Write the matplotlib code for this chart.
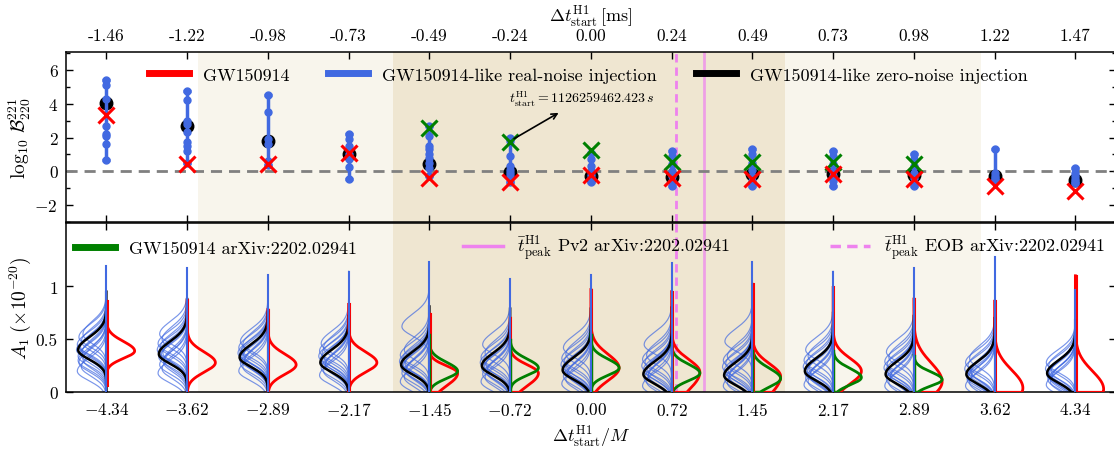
import numpy as np
import matplotlib
matplotlib.use('Agg')
import matplotlib.pyplot as plt
from matplotlib.lines import Line2D
from matplotlib.legend import Legend
from matplotlib.ticker import MultipleLocator

plt.rcParams['font.family'] = 'cmr10'
plt.rcParams['mathtext.fontset'] = 'cm'
plt.rcParams['axes.formatter.use_mathtext'] = True
plt.rcParams['axes.linewidth'] = 1.1

# x positions (start times)
t_ms = ['-1.46', '-1.22', '-0.98', '-0.73', '-0.49', '-0.24', '0.00',
        '0.24', '0.49', '0.73', '0.98', '1.22', '1.47']
t_M = ['-4.34', '-3.62', '-2.89', '-2.17', '-1.45', '-0.72', '0.00',
       '0.72', '1.45', '2.17', '2.89', '3.62', '4.34']
pos = np.arange(len(t_M))

# log10 Bayes factor 221 vs 220
bf_real = [
    [5.4, 5.1, 4.3, 2.7, 2.2, 2.1, 1.6, 0.65],
    [4.75, 4.25, 3.0, 2.8, 2.3, 1.75, 1.5, 1.2, 0.5],
    [4.55, 3.5, 1.9, 1.6, 0.6, 0.35],
    [2.2, 1.9, 1.5, 1.0, 0.7, 0.25, -0.45],
    [2.7, 2.1, 1.5, 1.3, 1.0, 0.8, 0.5, 0.2, -0.3],
    [2.0, 1.8, 0.9, 0.3, 0.1, -0.1, -0.3, -0.65],
    [1.1, 0.7, 0.3, 0.0, -0.2, -0.4, -0.65],
    [1.2, 0.9, 0.4, 0.0, -0.3, -0.6, -0.9],
    [1.3, 1.0, 0.5, 0.1, -0.3, -0.6, -0.85],
    [1.2, 0.9, 0.4, 0.0, -0.3, -0.6, -0.85],
    [1.0, 0.7, 0.3, -0.1, -0.4, -0.85],
    [1.3, -0.1, -0.3, -0.4, -0.55],
    [0.2, -0.1, -0.3, -0.45, -0.6, -0.7],
]
bf_zero = [4.05, 2.7, 1.8, 1.05, 0.4, -0.05, -0.3, -0.35, -0.15, -0.15, -0.25, -0.3, -0.55]
bf_gw = [3.35, 0.4, 0.45, 1.1, -0.4, -0.65, -0.2, -0.4, -0.45, -0.15, -0.45, -0.9, -1.2]
pos_arxiv = [4, 5, 6, 7, 8, 9, 10]
bf_arxiv = [2.55, 1.75, 1.25, 0.55, 0.55, 0.55, 0.45]

# A1 posteriors (peak, lower/upper spread, upper end of support)
blue_peaks = [
    [0.20, 0.24, 0.28, 0.31, 0.34, 0.36, 0.38, 0.40, 0.42, 0.45, 0.48, 0.52, 0.55, 0.30, 0.43],
    [0.18, 0.22, 0.26, 0.30, 0.33, 0.35, 0.37, 0.40, 0.43, 0.46, 0.50, 0.55, 0.28, 0.38],
    [0.20, 0.24, 0.27, 0.29, 0.31, 0.33, 0.35, 0.37, 0.39, 0.42, 0.45, 0.48, 0.30, 0.36],
    [0.16, 0.20, 0.23, 0.26, 0.28, 0.30, 0.32, 0.34, 0.36, 0.39, 0.42, 0.46, 0.25, 0.31],
    [0.10, 0.14, 0.18, 0.21, 0.23, 0.25, 0.27, 0.29, 0.32, 0.35, 0.40, 0.62, 0.20, 0.28],
    [0.10, 0.14, 0.17, 0.20, 0.22, 0.24, 0.26, 0.28, 0.30, 0.33, 0.37, 0.45, 0.19, 0.25],
    [0.08, 0.12, 0.15, 0.18, 0.20, 0.22, 0.24, 0.26, 0.29, 0.32, 0.36, 0.42, 0.17, 0.23],
    [0.06, 0.10, 0.13, 0.16, 0.18, 0.20, 0.22, 0.25, 0.28, 0.31, 0.35, 0.45, 0.15, 0.21],
    [0.06, 0.09, 0.12, 0.15, 0.17, 0.19, 0.21, 0.24, 0.27, 0.30, 0.34, 0.48, 0.14, 0.20],
    [0.07, 0.10, 0.13, 0.16, 0.18, 0.20, 0.22, 0.24, 0.27, 0.30, 0.34, 0.40, 0.15, 0.21],
    [0.06, 0.09, 0.12, 0.15, 0.17, 0.19, 0.21, 0.23, 0.26, 0.29, 0.33, 0.38, 0.14, 0.20],
    [0.06, 0.09, 0.12, 0.14, 0.16, 0.18, 0.20, 0.22, 0.25, 0.28, 0.32, 0.14, 0.19],
    [0.07, 0.10, 0.12, 0.14, 0.16, 0.18, 0.20, 0.22, 0.25, 0.28, 0.13, 0.19],
]
blue_widths = [0.36, 0.31, 0.34, 0.29, 0.35, 0.32, 0.30, 0.37, 0.33]
blue_top = [1.19, 1.17, 1.11, 1.14, 1.23, 1.07, 1.11, 1.22, 1.23, 1.14, 1.17, 1.28, 0.97]

black_peak = [0.40, 0.36, 0.33, 0.28, 0.26, 0.25, 0.21, 0.17, 0.16, 0.20, 0.17, 0.17, 0.18]
black_top = [0.95, 0.88, 0.76, 0.72, 0.81, 0.79, 0.79, 0.80, 0.78, 0.75, 0.72, 0.70, 0.68]

red_peak = [0.39, 0.28, 0.26, 0.28, 0.18, 0.18, 0.23, 0.19, 0.15, 0.20, 0.10, 0.04, 0.03]
red_sig_lo = [0.07, 0.09, 0.09, 0.09, 0.12, 0.12, 0.12, 0.17, 0.18, 0.12, 0.15, 0.15, 0.15]
red_sig_hi = [0.09, 0.10, 0.10, 0.10, 0.07, 0.08, 0.13, 0.12, 0.12, 0.12, 0.18, 0.17, 0.17]
red_top = [0.86, 0.87, 0.78, 0.83, 0.74, 0.70, 0.97, 0.95, 1.02, 0.99, 0.88, 0.86, 1.10]
red_bottom = [0.06, 0, 0, 0, 0, 0, 0, 0, 0, 0, 0, 0, 0]

green_peak = [0.20, 0.23, 0.23, 0.18, 0.13, 0.14, 0.12]
green_sig = [0.07, 0.07, 0.07, 0.07, 0.08, 0.07, 0.06]
green_top = [0.55, 0.50, 0.55, 0.45, 0.40, 0.40, 0.35]

# shaded windows and peak times (in units of the x positions)
light_span = (1.13, 10.83)
dark_span = (3.55, 8.41)
tpeak_eob = 7.05
tpeak_pv2 = 7.40

light = '#f8f5ec'
dark = '#efe6d1'
blue = 'royalblue'


def half_violin(ax, c, mu, s_lo, s_hi, top, width, side, bottom=0.0, **kw):
    a = np.linspace(bottom, top, 400)
    s = np.where(a < mu, s_lo, s_hi)
    w = width * np.exp(-0.5 * ((a - mu) / s) ** 2)
    xs = np.concatenate([[c], c + side * w])
    ys = np.concatenate([[bottom], a])
    ax.plot(xs, ys, **kw)


def put_legend(ax, handle, label, x, y):
    leg = Legend(ax, [handle], [label], loc='center left', bbox_to_anchor=(x, y),
                 frameon=False, fontsize=13, handlelength=2.2, handletextpad=0.8,
                 borderpad=0, borderaxespad=0)
    ax.add_artist(leg)


fig = plt.figure(figsize=(11.14, 4.52), dpi=100)
ax1 = fig.add_axes([66 / 1114, 1 - 222.7 / 452, 1049.75 / 1114, 170 / 452])
ax2 = fig.add_axes([66 / 1114, 1 - 393.3 / 452, 1049.75 / 1114, 169.5 / 452])

for ax in (ax1, ax2):
    ax.axvspan(*light_span, color=light, lw=0, zorder=0)
    ax.axvspan(*dark_span, color=dark, lw=0, zorder=0)
    ax.axvline(tpeak_eob, color='violet', ls=(0, (3, 1.8)), lw=2, zorder=1.5)
    ax.axvline(tpeak_pv2, color='violet', lw=2, alpha=0.7, zorder=1.5)
    ax.set_xlim(-0.5, 12.5)
    ax.set_xticks(pos)
    ax.tick_params(direction='in', which='both', top=True, right=True, pad=6,
                   labelsize=12.5, width=1)
    ax.tick_params(which='major', length=5)
    ax.tick_params(which='minor', length=3)

# ---------------- top panel: Bayes factors ----------------
ax1.axhline(0, color='gray', ls='--', lw=2, dashes=(4, 2.5), zorder=2)
for i, vals in enumerate(bf_real):
    lo, hi = min(vals), max(vals)
    ax1.errorbar(i, (lo + hi) / 2, yerr=(hi - lo) / 2, fmt='none', ecolor=blue,
                 elinewidth=2.5, capsize=3, capthick=2.5, zorder=4)
    ax1.plot([i] * len(vals), vals, 'o', color=blue, ms=5, zorder=4)
ax1.plot(pos, bf_zero, 'o', color='k', ms=9, zorder=3)
ax1.plot(pos, bf_gw, 'x', color='red', ms=11, mew=2.2, zorder=6)
ax1.plot(pos_arxiv, bf_arxiv, 'x', color='green', ms=11, mew=2.2, zorder=5)

ax1.annotate('', xy=(5.63, 3.55), xytext=(5.02, 1.85),
             arrowprops=dict(arrowstyle='->', color='k', lw=1.2), zorder=7)
ax1.text(4.99, 4.3, r'$t^{\rm H1}_{\rm start} = 1126259462.423\,s$', fontsize=10,
         ha='left', va='center')

ax1.set_ylim(-3, 7.1)
ax1.set_yticks([-2, 0, 2, 4, 6])
ax1.yaxis.set_minor_locator(MultipleLocator(1))
ax1.set_yticklabels([r'$-2$', '0', '2', '4', '6'])
ax1.tick_params(axis='x', labeltop=True, labelbottom=False)
ax1.set_xticklabels(t_ms)
ax1.xaxis.set_label_position('top')
ax1.set_xlabel(r'$\Delta t^{\rm H1}_{\rm start}\,[{\rm ms}]$', fontsize=13, labelpad=5)
ax1.set_ylabel(r'$\log_{10}\,\mathcal{B}^{221}_{220}$', fontsize=14)
ax1.yaxis.set_label_coords(-0.031, 0.5)

put_legend(ax1, Line2D([], [], color='red', lw=5), 'GW150914', 0.079, 0.863)
put_legend(ax1, Line2D([], [], color=blue, lw=5),
           'GW150914-like real-noise injection', 0.2496, 0.863)
put_legend(ax1, Line2D([], [], color='k', lw=5),
           'GW150914-like zero-noise injection', 0.600, 0.863)

# ---------------- bottom panel: A1 posteriors ----------------
for i in pos:
    for j, mu in enumerate(blue_peaks[i]):
        half_violin(ax2, i, mu, 0.09, 0.12, blue_top[i] - 0.05 * (j % 3),
                    blue_widths[j % len(blue_widths)], -1,
                    color=blue, lw=0.85, alpha=0.7, zorder=2)
    half_violin(ax2, i, black_peak[i], 0.09, 0.12, black_top[i], 0.35, -1,
                color='k', lw=1.8, zorder=3)
    half_violin(ax2, i, red_peak[i], red_sig_lo[i], red_sig_hi[i], red_top[i], 0.35, 1,
                bottom=red_bottom[i], color='red', lw=2, zorder=3)
    ax2.plot([i + 0.015, i + 0.015], [red_bottom[i], red_top[i]], color='red', lw=1.5, zorder=4)
    ax2.plot([i, i], [0, black_top[i]], color='k', lw=1.5, zorder=4)
    ax2.plot([i, i], [0, blue_top[i]], color=blue, lw=1.5, zorder=4.5)

for k, i in enumerate(pos_arxiv):
    half_violin(ax2, i, green_peak[k], green_sig[k], green_sig[k] * 1.2, green_top[k], 0.35, 1,
                color='green', lw=2, zorder=3.5)
    ax2.plot([i + 0.008, i + 0.008], [0, green_top[k]], color='green', lw=1, zorder=4)

ax2.set_ylim(0, 1.6)
ax2.set_yticks([0, 0.5, 1])
ax2.set_yticklabels(['0', '0.5', '1'])
ax2.set_xticklabels(['$' + s + '$' for s in t_M])
ax2.set_xlabel(r'$\Delta t^{\rm H1}_{\rm start}/M$', fontsize=13, labelpad=4)
ax2.set_ylabel(r'$A_1\;(\times 10^{-20})$', fontsize=14)
ax2.yaxis.set_label_coords(-0.031, 0.5)

put_legend(ax2, Line2D([], [], color='green', lw=5), 'GW150914 arXiv:2202.02941', 0.0086, 0.851)
put_legend(ax2, Line2D([], [], color='violet', lw=2.5),
           r'$\bar{t}^{\rm H1}_{\rm peak}$ Pv2 arXiv:2202.02941', 0.378, 0.851)
put_legend(ax2, Line2D([], [], color='violet', lw=2.5, ls=(0, (3, 1.8))),
           r'$\bar{t}^{\rm H1}_{\rm peak}$ EOB arXiv:2202.02941', 0.728, 0.851)

fig.savefig('out.png', dpi=100)
